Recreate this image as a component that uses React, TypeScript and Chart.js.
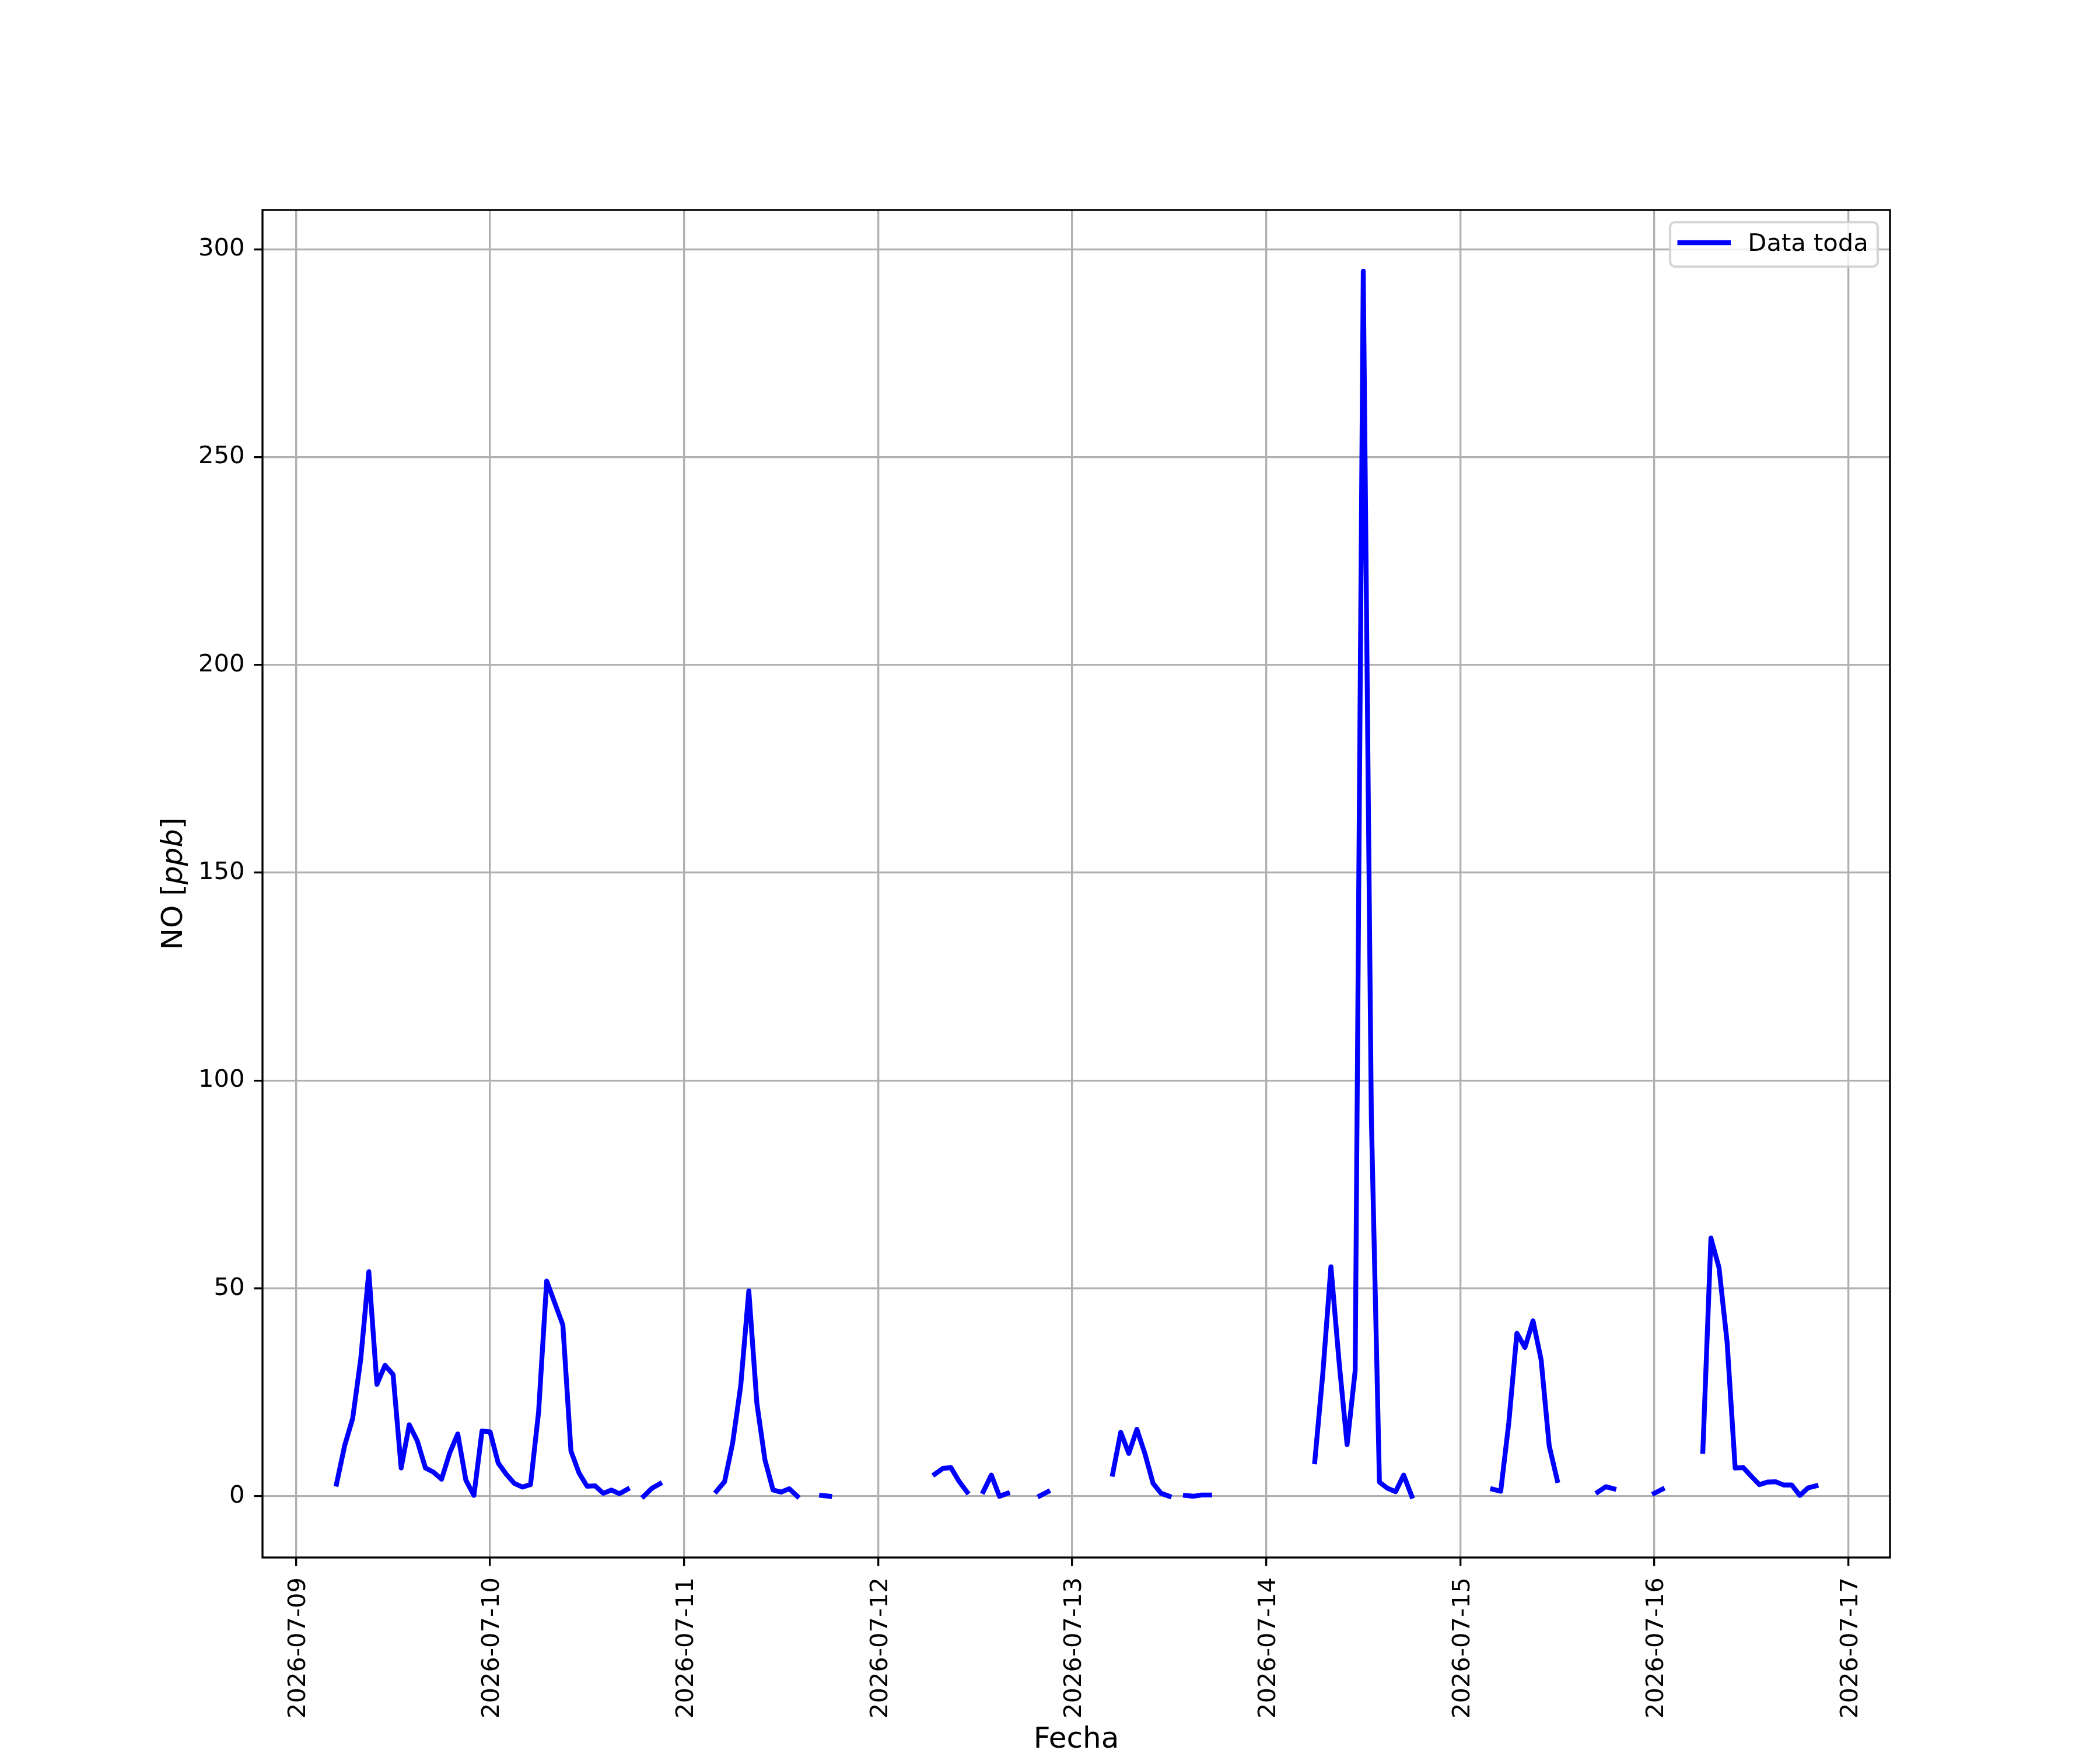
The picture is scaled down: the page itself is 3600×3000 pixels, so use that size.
import { useEffect, useRef } from "react";
import { Chart, registerables } from "chart.js";

Chart.register(...registerables);

// Etiquetas de los días (ticks del eje x)
const dayLabels = [
  "2026-07-09",
  "2026-07-10",
  "2026-07-11",
  "2026-07-12",
  "2026-07-13",
  "2026-07-14",
  "2026-07-15",
  "2026-07-16",
  "2026-07-17",
];

// NO [ppb], valores horarios (00:00 ... 23:00), null = sin dato
const no0709 = [null, null, null, null, null, 2.9, 12.1, 18.7, 33.0, 54.0, 26.9, 31.5, 29.3, 6.8, 17.2, 13.3, 6.8, 5.8, 4.1, 10.4, 15.0, 3.9, 0.2, 15.7];
const no0710 = [15.5, 8.0, 5.3, 3.1, 2.2, 2.8, 20.3, 51.8, 46.5, 41.2, 10.9, 5.6, 2.4, 2.5, 0.7, 1.5, 0.6, 1.7, null, 0.0, 1.9, 3.0, null, null];
const no0711 = [null, null, null, null, 1.2, 3.5, 12.8, 26.6, 49.4, 22.3, 8.7, 1.5, 1.0, 1.8, 0.0, null, null, 0.2, 0.0, null, null, null, null, null];
const no0712 = [null, null, null, null, null, null, null, 5.3, 6.7, 6.9, 3.6, 1.0, null, 1.1, 5.1, 0.0, 0.7, null, null, null, 0.1, 1.1, null, null];
const no0713 = [null, null, null, null, null, 5.3, 15.4, 10.3, 16.1, 10.2, 3.1, 0.7, 0.0, null, 0.2, 0.0, 0.3, 0.3, null, null, null, null, null, null];
const no0714 = [null, null, null, null, null, null, 8.3, 29.6, 55.2, 32.5, 12.4, 30.2, 294.7, 91.2, 3.4, 1.9, 1.1, 5.1, 0.0, null, null, null, null, null];
const no0715 = [null, null, null, null, 1.7, 1.2, 17.7, 39.2, 35.8, 42.2, 32.8, 12.1, 3.8, null, null, null, null, 1.0, 2.3, 1.8, null, null, null, null];
const no0716 = [0.7, 1.7, null, null, null, null, 10.8, 62.1, 55.0, 37.1, 6.8, 6.9, 4.8, 2.8, 3.4, 3.5, 2.7, 2.7, 0.2, 2.0, 2.5, null, null, null];

const dailySeries = [no0709, no0710, no0711, no0712, no0713, no0714, no0715, no0716];

const seriesLabel = "Data toda";
const xTitle = "Fecha";
const yTicks = [0, 50, 100, 150, 200, 250, 300];

const FONT = "'DejaVu Sans'";
const TICK_FONT = 41.67;
const LABEL_FONT = 50;
const TICK_LEN = 14.6;
const THIN = 3.33;
const LINE_W = 8.33;

export default function App() {
  const canvasRef = useRef<HTMLCanvasElement>(null);
  const chartRef = useRef<Chart | null>(null);

  useEffect(() => {
    if (!canvasRef.current) return;
    document.body.style.margin = "0";

    // puntos (hora desde 2026-07-09 00:00, valor)
    const points: { x: number; y: number | null }[] = [];
    dailySeries.forEach((day, d) => {
      day.forEach((v, h) => points.push({ x: d * 24 + h, y: v }));
    });
    const valid = points.filter((p) => p.y !== null) as { x: number; y: number }[];
    const xs = valid.map((p) => p.x);
    const ys = valid.map((p) => p.y);
    const x0 = Math.min(...xs), x1 = Math.max(...xs);
    const y0 = Math.min(...ys), y1 = Math.max(...ys);
    const xm = (x1 - x0) * 0.05, ym = (y1 - y0) * 0.05;
    const dayTicks = dayLabels.map((_, i) => i * 24);

    const decor = {
      id: "decor",
      afterDraw(chart: any) {
        const { ctx, chartArea: a, scales } = chart;
        ctx.save();
        // marco
        ctx.strokeStyle = "#000";
        ctx.lineWidth = THIN;
        ctx.strokeRect(a.left, a.top, a.right - a.left, a.bottom - a.top);

        // etiquetas del eje x (rotadas)
        ctx.fillStyle = "#000";
        ctx.font = `${TICK_FONT}px ${FONT}`;
        ctx.textAlign = "right";
        ctx.textBaseline = "alphabetic";
        dayLabels.forEach((lab, i) => {
          const px = scales.x.getPixelForValue(dayTicks[i]);
          ctx.save();
          ctx.translate(px + TICK_FONT * 0.729 / 2, a.bottom + 34);
          ctx.rotate(-Math.PI / 2);
          ctx.fillText(lab, 0, 0);
          ctx.restore();
        });

        // título eje x
        ctx.font = `${LABEL_FONT}px ${FONT}`;
        ctx.textAlign = "center";
        ctx.fillText(xTitle, (a.left + a.right) / 2, 2996);

        // título eje y: NO [ppb] con ppb en cursiva
        const parts = [
          { t: "NO [", f: `${LABEL_FONT}px ${FONT}` },
          { t: "ppb", f: `italic ${LABEL_FONT}px ${FONT}` },
          { t: "]", f: `${LABEL_FONT}px ${FONT}` },
        ];
        let total = 0;
        const widths = parts.map((p) => {
          ctx.font = p.f;
          const w = ctx.measureText(p.t).width;
          total += w;
          return w;
        });
        ctx.save();
        ctx.translate(312, (a.top + a.bottom) / 2);
        ctx.rotate(-Math.PI / 2);
        ctx.textAlign = "left";
        let cx = -total / 2;
        parts.forEach((p, i) => {
          ctx.font = p.f;
          ctx.fillText(p.t, cx, 0);
          cx += widths[i];
        });
        ctx.restore();

        // leyenda
        const lx = 2863, ly = 381, lw = 356, lh = 76, r = 8.3;
        ctx.beginPath();
        ctx.moveTo(lx + r, ly);
        ctx.arcTo(lx + lw, ly, lx + lw, ly + lh, r);
        ctx.arcTo(lx + lw, ly + lh, lx, ly + lh, r);
        ctx.arcTo(lx, ly + lh, lx, ly, r);
        ctx.arcTo(lx, ly, lx + lw, ly, r);
        ctx.closePath();
        ctx.fillStyle = "rgba(255,255,255,0.8)";
        ctx.fill();
        ctx.strokeStyle = "rgba(204,204,204,0.8)";
        ctx.lineWidth = 4.17;
        ctx.stroke();
        ctx.beginPath();
        ctx.moveTo(lx + 16.7, 416);
        ctx.lineTo(lx + 16.7 + 83.3, 416);
        ctx.strokeStyle = "#0000ff";
        ctx.lineWidth = LINE_W;
        ctx.lineCap = "square";
        ctx.stroke();
        ctx.fillStyle = "#000";
        ctx.font = `${TICK_FONT}px ${FONT}`;
        ctx.textAlign = "left";
        ctx.fillText(seriesLabel, lx + 16.7 + 83.3 + 33.3, 430);
        ctx.restore();
      },
    };

    const grid = {
      color: "#b0b0b0",
      lineWidth: THIN,
      tickColor: "#000",
      tickWidth: THIN,
      tickLength: TICK_LEN,
      drawOnChartArea: true,
      drawTicks: true,
    };

    chartRef.current = new Chart(canvasRef.current, {
      type: "line",
      data: {
        datasets: [
          {
            label: seriesLabel,
            data: points as any,
            borderColor: "#0000ff",
            backgroundColor: "#0000ff",
            borderWidth: LINE_W,
            borderCapStyle: "square",
            borderJoinStyle: "round",
            pointRadius: 0,
            tension: 0,
            fill: false,
            spanGaps: false,
          },
        ],
      },
      options: {
        animation: false,
        responsive: false,
        devicePixelRatio: 1,
        parsing: true,
        layout: { padding: { left: 0, top: 360, right: 360, bottom: 0 } },
        plugins: {
          legend: { display: false },
          tooltip: { enabled: false },
          title: { display: false },
        },
        scales: {
          x: {
            type: "linear",
            min: x0 - xm,
            max: x1 + xm,
            afterBuildTicks: (axis: any) => {
              axis.ticks = dayTicks.map((v) => ({ value: v }));
            },
            afterFit: (s: any) => {
              s.height = 330;
            },
            ticks: { display: false },
            grid,
            border: { display: false },
          },
          y: {
            type: "linear",
            min: y0 - ym,
            max: y1 + ym,
            afterBuildTicks: (axis: any) => {
              axis.ticks = yTicks.map((v) => ({ value: v }));
            },
            afterFit: (s: any) => {
              s.width = 450;
            },
            ticks: {
              color: "#000",
              padding: 16,
              font: { family: FONT, size: TICK_FONT },
            },
            grid,
            border: { display: false },
          },
        },
      } as any,
      plugins: [decor],
    });

    return () => {
      if (chartRef.current) {
        chartRef.current.destroy();
        chartRef.current = null;
      }
    };
  }, []);

  return (
    <div style={{ position: "fixed", left: 0, top: 0, width: 3600, height: 3000, background: "#fff" }}>
      <canvas ref={canvasRef} width={3600} height={3000} style={{ width: 3600, height: 3000 }} />
    </div>
  );
}
